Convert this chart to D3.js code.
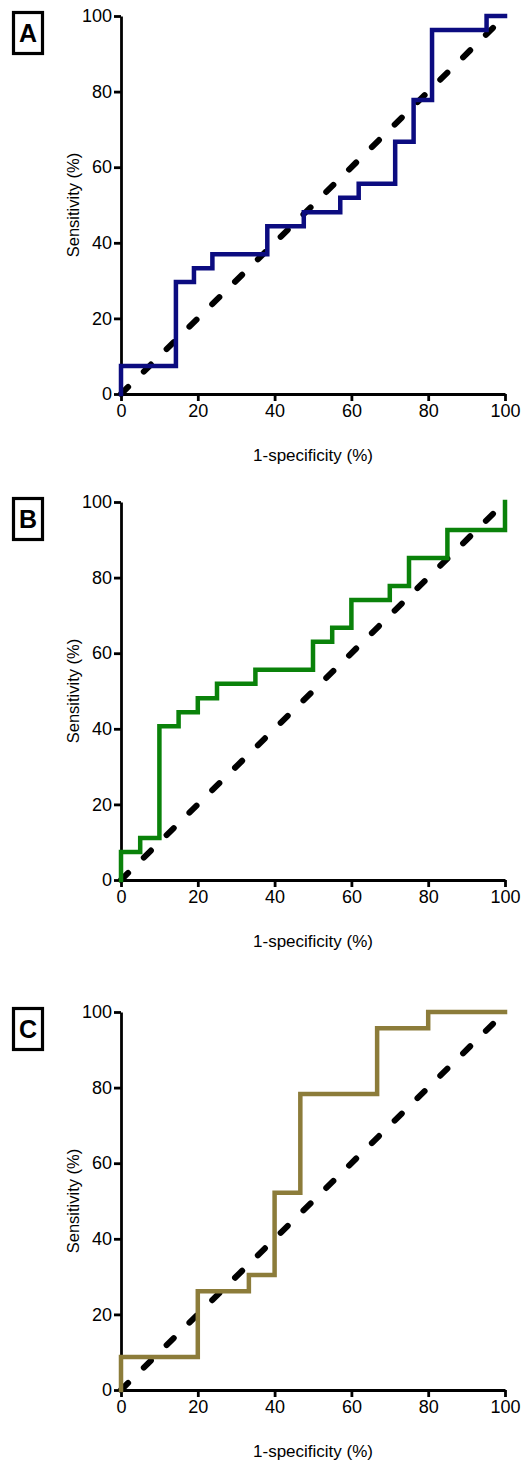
<!DOCTYPE html>
<html>
<head>
<meta charset="utf-8">
<script src="https://cdn.jsdelivr.net/npm/d3@7"></script>
<style>
  body { margin: 0; background: #fff; }
  svg { display: block; font-family: "Liberation Sans", Arial, sans-serif; }
</style>
</head>
<body>
<div id="app"></div>
<script>
// ROC threshold points (1-specificity %, sensitivity %)
const aFpr = [0, 0, 14.3, 19.0, 23.8, 38.1, 47.6, 57.1, 61.9, 71.4, 76.2, 81.0, 95.2, 100]
const aTpr = [0, 7.4, 29.6, 33.3, 37.0, 44.4, 48.1, 51.9, 55.6, 66.7, 77.8, 96.3, 100, 100]

const bFpr = [0, 0, 5, 10, 15, 20, 25, 35, 50, 55, 60, 70, 75, 85, 100]
const bTpr = [0, 7.4, 11.1, 40.7, 44.4, 48.1, 51.9, 55.6, 63.0, 66.7, 74.1, 77.8, 85.2, 92.6, 100]

const cFpr = [0, 0, 20, 33.3, 40, 46.7, 66.7, 80, 100]
const cTpr = [0, 8.7, 26.1, 30.4, 52.2, 78.3, 95.7, 100, 100]

const panelLabels = ['A', 'B', 'C']
const panelColors = ['#0c0c80', '#0a820a', '#8c7c3a']
const tickValues = [0, 20, 40, 60, 80, 100]

const w = 522
const h = 1463
const left = 121
const right = 505
const panelTops = [16, 502, 1012]
const plotH = 378

const panels = [
  { fpr: aFpr, tpr: aTpr },
  { fpr: bFpr, tpr: bTpr },
  { fpr: cFpr, tpr: cTpr }
]

const svg = d3.select('#app')
  .append('svg')
  .attr('width', w)
  .attr('height', h)

const xScale = d3.scaleLinear().domain([0, 100]).range([left, right])

panels.forEach((p, i) => {
  const top = panelTops[i]
  const bottom = top + plotH
  const yScale = d3.scaleLinear().domain([0, 100]).range([bottom, top])
  const g = svg.append('g')

  const xAxis = d3.axisBottom(xScale).tickValues(tickValues).tickSize(7).tickSizeOuter(0).tickPadding(3)
  const yAxis = d3.axisLeft(yScale).tickValues(tickValues).tickSize(7).tickSizeOuter(0).tickPadding(2)

  g.append('g')
    .attr('transform', 'translate(0,' + bottom + ')')
    .call(xAxis)
  g.append('g')
    .attr('transform', 'translate(' + left + ',0)')
    .call(yAxis)

  g.selectAll('.domain, .tick line')
    .attr('stroke', '#000')
    .attr('stroke-width', 2.8)
  g.selectAll('.tick text')
    .attr('fill', '#000')
    .style('font-size', '18px')
    .style('font-family', '"Liberation Sans", Arial, sans-serif')

  // chance line
  g.append('line')
    .attr('x1', xScale(0))
    .attr('y1', yScale(0))
    .attr('x2', xScale(100))
    .attr('y2', yScale(100))
    .attr('stroke', '#000')
    .attr('stroke-width', 6)
    .attr('stroke-linecap', 'round')
    .attr('stroke-dasharray', '10,22')

  const pts = p.fpr.map((x, j) => [x, p.tpr[j]])
  const line = d3.line()
    .x(d => xScale(d[0]))
    .y(d => yScale(d[1]))
    .curve(d3.curveStepAfter)

  g.append('path')
    .attr('d', line(pts))
    .attr('fill', 'none')
    .attr('stroke', panelColors[i])
    .attr('stroke-width', 4.5)
    .attr('stroke-linejoin', 'miter')
    .attr('stroke-linecap', 'square')

  g.append('text')
    .attr('x', (left + right) / 2)
    .attr('y', bottom + 67)
    .attr('text-anchor', 'middle')
    .style('font-size', '17px')
    .text('1-specificity (%)')

  g.append('text')
    .attr('transform', 'translate(79,' + (top + bottom) / 2 + ') rotate(-90)')
    .attr('text-anchor', 'middle')
    .style('font-size', '16.5px')
    .text('Sensitivity (%)')

  // panel letter
  g.append('rect')
    .attr('x', 13.5)
    .attr('y', top - 3.5)
    .attr('width', 29)
    .attr('height', 41)
    .attr('fill', 'none')
    .attr('stroke', '#000')
    .attr('stroke-width', 3.2)
  g.append('text')
    .attr('x', 28)
    .attr('y', top + 26)
    .attr('text-anchor', 'middle')
    .style('font-size', '25px')
    .style('font-weight', 'bold')
    .text(panelLabels[i])
})
</script>
</body>
</html>
